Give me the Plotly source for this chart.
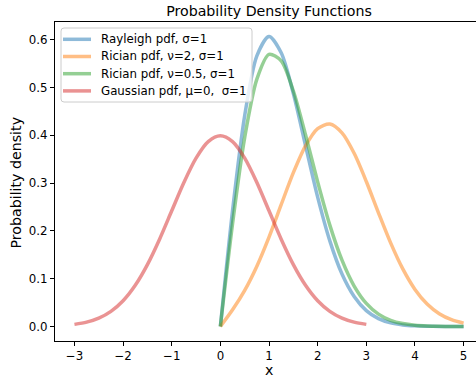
import plotly.graph_objects as go

# x grid for the positive-support distributions
x_pos = [0.0, 0.25, 0.5, 0.75, 1.0, 1.25, 1.5, 1.75, 2.0, 2.25, 2.5, 2.75,
         3.0, 3.25, 3.5, 3.75, 4.0, 4.25, 4.5, 4.75, 5.0]
rayleigh = [0.0, 0.2423, 0.4412, 0.5661, 0.6065, 0.5723, 0.4870, 0.3785, 0.2707,
            0.1791, 0.1098, 0.0628, 0.0333, 0.0165, 0.00765, 0.00332, 0.00134,
            0.00051, 0.00018, 0.00006, 0.00002]
rician_v2 = [0.0, 0.0349, 0.0756, 0.1262, 0.1871, 0.2548, 0.3217, 0.3779, 0.4140,
             0.4234, 0.4049, 0.3622, 0.3033, 0.2378, 0.1748, 0.1204, 0.0776,
             0.0470, 0.0267, 0.0142, 0.0071]
rician_v05 = [0.0, 0.2147, 0.3955, 0.5173, 0.5692, 0.5556, 0.4924, 0.4011, 0.3024,
              0.2120, 0.1387, 0.0847, 0.0484, 0.0259, 0.0130, 0.00612, 0.0027,
              0.00112, 0.00043, 0.00016, 0.00005]
x_gauss = [-3.0, -2.75, -2.5, -2.25, -2.0, -1.75, -1.5, -1.25, -1.0, -0.75, -0.5, -0.25,
           0.0, 0.25, 0.5, 0.75, 1.0, 1.25, 1.5, 1.75, 2.0, 2.25, 2.5, 2.75, 3.0]
gauss = [0.00443, 0.00909, 0.01753, 0.03174, 0.05399, 0.08628, 0.12952, 0.18265,
         0.24197, 0.30114, 0.35207, 0.38667, 0.39894, 0.38667, 0.35207, 0.30114,
         0.24197, 0.18265, 0.12952, 0.08628, 0.05399, 0.03174, 0.01753, 0.00909, 0.00443]

names = ["Rayleigh pdf, σ=1", "Rician pdf, ν=2, σ=1", "Rician pdf, ν=0.5, σ=1",
         "Gaussian pdf, μ=0,  σ=1"]
colors = ["#1f77b4", "#ff7f0e", "#2ca02c", "#d62728"]
x_ticks = [-3, -2, -1, 0, 1, 2, 3, 4, 5]
y_ticks = [0.0, 0.1, 0.2, 0.3, 0.4, 0.5, 0.6]

series = [(x_pos, rayleigh), (x_pos, rician_v2), (x_pos, rician_v05), (x_gauss, gauss)]

W, H = 476, 378
ML, MR, MT, MB = 55, 0, 22, 37
PW, PH = W - ML - MR, H - MT - MB


def px(xp):
    return (xp - ML) / PW


def py(yp):
    return (H - MB - yp) / PH


fig = go.Figure()
for (xs, ys), name, col in zip(series, names, colors):
    fig.add_trace(go.Scatter(x=xs, y=ys, mode="lines", name=name, opacity=0.5,
                             showlegend=False, hoverinfo="skip",
                             line=dict(color=col, width=3.5, shape="spline", smoothing=0.8)))

# legend drawn as a matplotlib-style box
x0, x1, y0, y1, r = 61, 252, 28, 102, 3
rx, ry = r / PW, r / PH
X0, X1, Y0, Y1 = px(x0), px(x1), py(y1), py(y0)
path = (f"M {X0+rx},{Y0} L {X1-rx},{Y0} Q {X1},{Y0} {X1},{Y0+ry} "
        f"L {X1},{Y1-ry} Q {X1},{Y1} {X1-rx},{Y1} L {X0+rx},{Y1} "
        f"Q {X0},{Y1} {X0},{Y1-ry} L {X0},{Y0+ry} Q {X0},{Y0} {X0+rx},{Y0} Z")
shapes = [dict(type="path", path=path, xref="paper", yref="paper",
               fillcolor="rgba(255,255,255,0.8)", line=dict(color="#cccccc", width=1),
               layer="above")]
annotations = []
for i, (name, col) in enumerate(zip(names, colors)):
    yy = 39.3 + i * 17.2
    shapes.append(dict(type="line", xref="paper", yref="paper",
                       x0=px(63), x1=px(91), y0=py(yy), y1=py(yy),
                       line=dict(color=col, width=3.5), opacity=0.5, layer="above"))
    annotations.append(dict(text=name, xref="paper", yref="paper", x=px(99), y=py(yy),
                            xanchor="left", yanchor="middle", showarrow=False,
                            font=dict(family="DejaVu Sans", size=11.8, color="black")))

# axis labels placed like matplotlib (centred on the full axes box)
annotations.append(dict(text="x", xref="paper", yref="paper", x=px(269), y=py(369.5),
                        xanchor="center", yanchor="middle", showarrow=False, borderpad=0,
                        font=dict(family="DejaVu Sans", size=14.2, color="black")))
annotations.append(dict(text="Probability density", xref="paper", yref="paper",
                        x=px(15.5), y=py(183), xanchor="center", yanchor="middle",
                        textangle=-90, showarrow=False,
                        font=dict(family="DejaVu Sans", size=14.2, color="black")))

font = dict(family="DejaVu Sans", size=11.8, color="black")
fig.update_layout(
    width=W, height=H,
    margin=dict(l=ML, r=MR, t=MT, b=MB),
    plot_bgcolor="white", paper_bgcolor="white",
    font=font,
    title=dict(text="Probability Density Functions", x=px(269), xref="paper", xanchor="center",
               y=1 - 11 / H, yref="container", yanchor="middle",
               font=dict(family="DejaVu Sans", size=14.2, color="black")),
    showlegend=False,
    hovermode=False,
    shapes=shapes,
    annotations=annotations,
    xaxis=dict(range=[-3.4, 5.255], tickvals=x_ticks,
               ticktext=[str(v).replace("-", "−") for v in x_ticks],
               showgrid=False, zeroline=False, showline=True, linecolor="black", linewidth=1,
               mirror=True, ticks="outside", ticklen=4, tickcolor="black", automargin=False),
    yaxis=dict(range=[-0.0303, 0.6368], tickvals=y_ticks, ticktext=[f"{v:.1f}" for v in y_ticks],
               showgrid=False, zeroline=False, showline=True, linecolor="black", linewidth=1,
               ticks="outside", ticklen=4, tickcolor="black", automargin=False),
)

fig.write_html("out.html", config={"displayModeBar": False, "staticPlot": True},
               post_script="document.body.style.margin='0px';document.body.style.overflow='hidden';")
